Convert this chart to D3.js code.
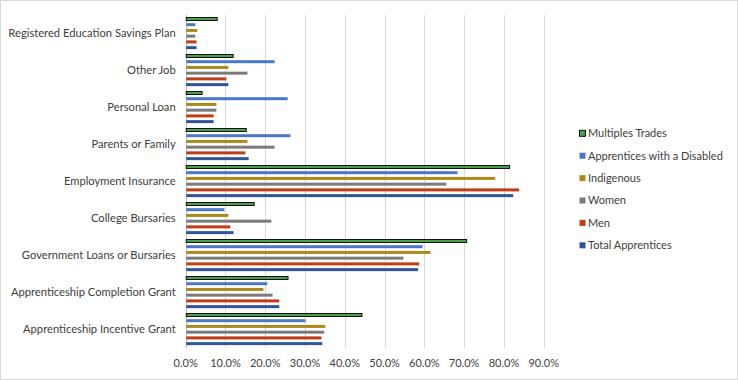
<!DOCTYPE html>
<html><head><meta charset="utf-8">
<script src="https://cdn.jsdelivr.net/npm/d3@7"></script>
<style>body{margin:0;background:#fff;}svg{display:block;font-family:Lato,"Open Sans",sans-serif;}</style>
</head><body>
<svg id="c" width="738" height="380"></svg>
<script>
// categories top to bottom
const categories = ["Registered Education Savings Plan","Other Job","Personal Loan","Parents or Family","Employment Insurance","College Bursaries","Government Loans or Bursaries","Apprenticeship Completion Grant","Apprenticeship Incentive Grant"];
// series, legend/top-to-bottom order
const seriesNames = ["Multiples Trades","Apprentices with a Disabled","Indigenous","Women","Men","Total Apprentices"];
const seriesColors = ["#4f9d4f","#4a78c6","#ab8a1c","#7b7b7b","#c23b17","#2f5497"];
const multiplesTrades = [7.8,11.8,4.0,15.1,81.3,17.1,70.5,25.6,44.2];
const disabled       = [2.3,22.2,25.5,26.2,68.2,9.6,59.4,20.4,30.0];
const indigenous     = [2.8,10.6,7.6,15.4,77.7,10.6,61.4,19.4,35.0];
const women          = [2.3,15.4,7.6,22.2,65.4,21.4,54.6,21.7,34.7];
const men            = [2.6,10.1,6.9,14.9,83.7,11.1,58.6,23.4,34.0];
const total          = [2.6,10.6,6.9,15.7,82.2,11.9,58.3,23.4,34.2];
const seriesValues = [multiplesTrades,disabled,indigenous,women,men,total];
const xTicks = [0,10,20,30,40,50,60,70,80,90];

(function(){
const svg = d3.select("#c");
svg.append("rect").attr("x",0.5).attr("y",0.5).attr("width",737).attr("height",379).attr("fill","#fff").attr("stroke","#d9d9d9");

const pLeft = 185.7, pRight = 543.7, pTop = 14.8, pBottom = 347.8;
const x = d3.scaleLinear().domain([0,90]).range([pLeft,pRight]);
const y0 = d3.scaleBand().domain(categories).range([pTop,pBottom]).padding(0);
const bw = y0.bandwidth();
const y1 = d3.scaleBand().domain(seriesNames).range([1.3,bw-1.3]).padding(0);
const barH = 3;

// gridlines
svg.append("g").selectAll("line").data(xTicks.slice(1)).join("line")
  .attr("x1",d=>Math.round(x(d))+0.5).attr("x2",d=>Math.round(x(d))+0.5)
  .attr("y1",pTop).attr("y2",pBottom).attr("stroke","#d9d9d9").attr("stroke-width",1);
// axis line
svg.append("line").attr("x1",Math.round(pLeft)+0.5).attr("x2",Math.round(pLeft)+0.5)
  .attr("y1",pTop).attr("y2",pBottom).attr("stroke","#bfbfbf");

// bars
const g = svg.append("g");
categories.forEach((cat,ci)=>{
  seriesNames.forEach((s,si)=>{
    const v = seriesValues[si][ci];
    const yy = y0(cat)+y1(s)+(y1.bandwidth()-barH)/2;
    g.append("rect").attr("x",x(0)+0.5).attr("y",yy).attr("width",x(v)-x(0)).attr("height",barH)
      .attr("fill",seriesColors[si])
      .attr("stroke",si===0?"#000":"none").attr("stroke-width",si===0?0.9:0);
  });
});

// category labels
svg.append("g").selectAll("text").data(categories).join("text")
  .attr("x",pLeft-10).attr("y",d=>y0(d)+bw/2).attr("dy","0.35em")
  .attr("text-anchor","end").attr("font-size","11.2px").attr("fill","#404040").text(d=>d);

// x axis tick labels
const fmt = d3.format(".1f");
svg.append("g").selectAll("text").data(xTicks).join("text")
  .attr("x",d=>x(d)).attr("y",363).attr("dy","0.35em").attr("text-anchor","middle")
  .attr("font-size","11px").attr("fill","#404040").text(d=>fmt(d)+"%");

// legend
const lg = svg.append("g");
seriesNames.forEach((s,i)=>{
  const ly = 133.3 + i*22.4;
  lg.append("rect").attr("x",579.5).attr("y",ly-3).attr("width",6).attr("height",6)
    .attr("fill",seriesColors[i]).attr("stroke",i===0?"#000":"none").attr("stroke-width",0.9);
  lg.append("text").attr("x",588).attr("y",ly).attr("dy","0.35em").attr("font-size","11px")
    .attr("fill","#404040").text(s);
});
})();
</script>
</body></html>
